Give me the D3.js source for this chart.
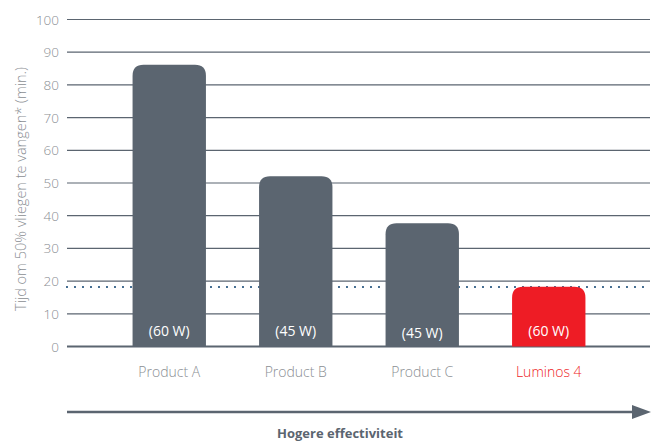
<!DOCTYPE html>
<html><head><meta charset="utf-8">
<script src="https://cdn.jsdelivr.net/npm/d3@7/dist/d3.min.js"></script>
<style>body{margin:0;background:#fff;} svg{display:block;font-family:"Open Sans",sans-serif;}</style>
</head><body>
<svg id="c" width="656" height="443"></svg>
<script>
const categories = ["Product A","Product B","Product C","Luminos 4"];
const values = [86.2, 52.1, 37.7, 18.3];
const barLabels = ["(60 W)","(45 W)","(45 W)","(60 W)"];
const yTicks = [0,10,20,30,40,50,60,70,80,90,100];
const reference = 18.2;
const yTitle = "Tijd om 50% vliegen te vangen* (min.)";
const xTitle = "Hogere effectiviteit";

const svg = d3.select("#c");
const x0 = 67, x1 = 650;
const y = d3.scaleLinear().domain([0,100]).range([346.5,19.5]);
const x = d3.scaleBand().domain(categories).range([106, 612]).paddingInner(0.42).paddingOuter(0.21);
const grey = "#5b6570";
const red = "#ee1c25";

// grid
svg.append("g").selectAll("line").data(yTicks).join("line")
  .attr("x1", x0).attr("x2", x1)
  .attr("y1", d=>y(d)).attr("y2", d=>y(d))
  .attr("stroke", grey).attr("stroke-width", d=>d===0?2:1.2);
svg.append("g").selectAll("text").data(yTicks).join("text")
  .attr("x", 59).attr("y", d=>y(d)+5).attr("text-anchor","end")
  .attr("font-size", 13.5).attr("font-weight",300).attr("fill","#8a8e93").text(d=>d);

// reference dotted line (behind bars)
svg.append("line").attr("x1", x0).attr("x2", x1)
  .attr("y1", y(reference)).attr("y2", y(reference))
  .attr("stroke","#1d4f7a").attr("stroke-width",2.2)
  .attr("stroke-dasharray","0 8").attr("stroke-linecap","round");

// bars with rounded top
const r = 11;
function barPath(d,i){
  const bx = x(categories[i]), w = x.bandwidth(), top = y(d), bot = y(0);
  return `M${bx},${bot}V${top+r}Q${bx},${top} ${bx+r},${top}H${bx+w-r}Q${bx+w},${top} ${bx+w},${top+r}V${bot}Z`;
}
svg.append("g").selectAll("path").data(values).join("path")
  .attr("d", barPath).attr("fill", (d,i)=> i===3?red:grey);

// bar labels
svg.append("g").selectAll("text").data(barLabels).join("text")
  .attr("x",(d,i)=>x(categories[i])+x.bandwidth()/2)
  .attr("y",(d,i)=> i===2?338:335.5)
  .attr("text-anchor","middle").attr("font-size",14).attr("fill","#fff").text(d=>d);

// category labels
svg.append("g").selectAll("text").data(categories).join("text")
  .attr("x", d=>x(d)+x.bandwidth()/2).attr("y", 377)
  .attr("text-anchor","middle").attr("font-size",14).attr("font-weight",300)
  .attr("fill",(d,i)=> i===3?red:"#8a8e93").text(d=>d);

// y title
svg.append("text").attr("transform","translate(26,189) rotate(-90)")
  .attr("text-anchor","middle").attr("font-size",14.5).attr("font-weight",300)
  .attr("fill","#8a8e93").text(yTitle);

// arrow
svg.append("line").attr("x1",67).attr("x2",636).attr("y1",412).attr("y2",412)
  .attr("stroke",grey).attr("stroke-width",2.5);
svg.append("path").attr("d","M651,412L632,405L632,419Z").attr("fill",grey);
svg.append("text").attr("x",340).attr("y",438).attr("text-anchor","middle")
  .attr("font-size",13).attr("font-weight","bold").attr("fill",grey).text(xTitle);
</script>
</body></html>
